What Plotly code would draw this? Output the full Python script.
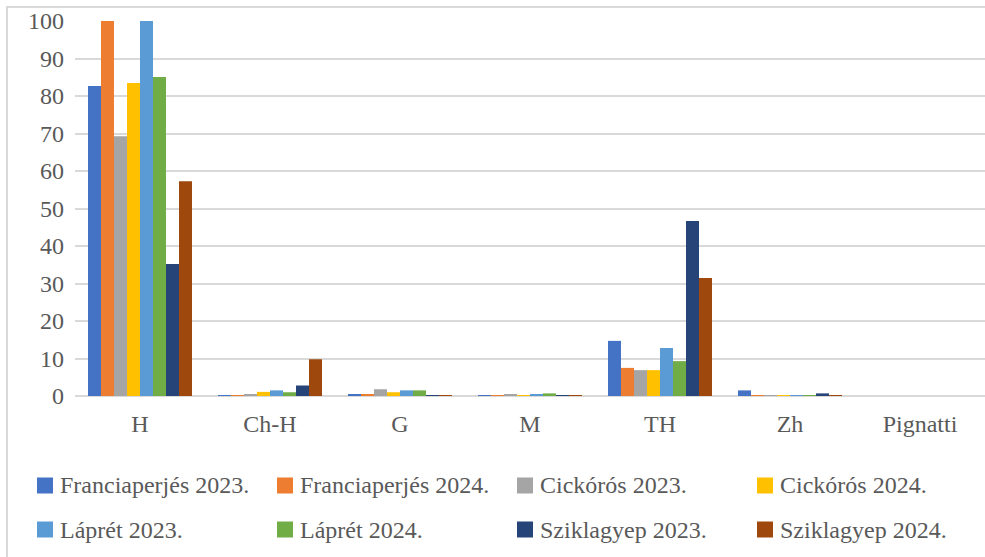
import plotly.graph_objects as go

# Catégories et séries
categories = ['H', 'Ch-H', 'G', 'M', 'TH', 'Zh', 'Pignatti']
series_names = ['Franciaperjés 2023.', 'Franciaperjés 2024.', 'Cickórós 2023.', 'Cickórós 2024.',
                'Láprét 2023.', 'Láprét 2024.', 'Sziklagyep 2023.', 'Sziklagyep 2024.']

franciaperjes_2023 = [82.7, 0.1, 0.45, 0.1, 14.7, 1.5, 0]
franciaperjes_2024 = [100, 0.1, 0.45, 0.1, 7.5, 0.2, 0]
cickoros_2023 = [69.3, 0.45, 1.8, 0.45, 6.9, 0.05, 0]
cickoros_2024 = [83.5, 1.1, 1.0, 0.1, 6.9, 0.05, 0]
lapret_2023 = [100, 1.5, 1.5, 0.45, 12.8, 0.05, 0]
lapret_2024 = [85.1, 1.0, 1.5, 0.7, 9.3, 0.05, 0]
sziklagyep_2023 = [35.2, 2.8, 0.2, 0.1, 46.7, 0.7, 0]
sziklagyep_2024 = [57.3, 9.8, 0.1, 0.1, 31.5, 0.2, 0]

y_ticks = [0, 10, 20, 30, 40, 50, 60, 70, 80, 90, 100]

all_values = [franciaperjes_2023, franciaperjes_2024, cickoros_2023, cickoros_2024,
              lapret_2023, lapret_2024, sziklagyep_2023, sziklagyep_2024]
colors = ['#4472C4', '#ED7D31', '#A5A5A5', '#FFC000', '#5B9BD5', '#70AD47', '#264478', '#9E480E']

W, H = 985, 557
L, R, T, B = 75, 0, 21, 161
pw, ph = W - L - R, H - T - B

def px_x(px):
    return (px - L) / pw

def px_y(py):
    return (H - B - py) / ph

fig = go.Figure()
for name, vals, col in zip(series_names, all_values, colors):
    fig.add_trace(go.Bar(x=categories, y=vals, name=name, showlegend=False,
                         marker=dict(color=col, line=dict(width=0))))

font_txt = dict(family='Liberation Serif', size=24, color='#595959')

fig.update_layout(
    width=W, height=H,
    paper_bgcolor='white', plot_bgcolor='white',
    barmode='group', bargap=0.2, bargroupgap=0,
    margin=dict(l=L, r=R, t=T, b=B),
    font=font_txt,
    xaxis=dict(showgrid=False, showline=False, ticks='', tickfont=font_txt, automargin=False,
               ticklabelstandoff=11),
    yaxis=dict(range=[0, 100], tickvals=y_ticks, showgrid=True, gridcolor='#D9D9D9', gridwidth=2,
               zeroline=True, zerolinecolor='#D9D9D9', zerolinewidth=2,
               showline=False, ticks='', tickfont=font_txt, ticklabelstandoff=10, automargin=False),
    showlegend=False,
)

# Légende manuelle : 2 lignes x 4 colonnes
col_x = [37, 277, 517, 757]
row_y = [485.5, 529.5]
for i, (name, col) in enumerate(zip(series_names, colors)):
    x0 = col_x[i % 4]
    yc = row_y[i // 4]
    fig.add_shape(type='rect', xref='paper', yref='paper',
                  x0=px_x(x0), x1=px_x(x0 + 16), y0=px_y(yc + 8), y1=px_y(yc - 8),
                  fillcolor=col, line=dict(width=0))
    fig.add_annotation(xref='paper', yref='paper', x=px_x(x0 + 21), y=px_y(yc),
                       text=name, showarrow=False, xanchor='left', yanchor='middle',
                       font=font_txt)

# Bordure du graphique
fig.add_shape(type='rect', xref='paper', yref='paper', x0=px_x(7), x1=px_x(1000), y0=px_y(570), y1=px_y(7),
              line=dict(color='#D9D9D9', width=2), fillcolor='rgba(0,0,0,0)', layer='below')

fig.write_html('out.html', config={'displayModeBar': False},
               post_script="document.body.style.margin='0';document.body.style.overflow='hidden';")
